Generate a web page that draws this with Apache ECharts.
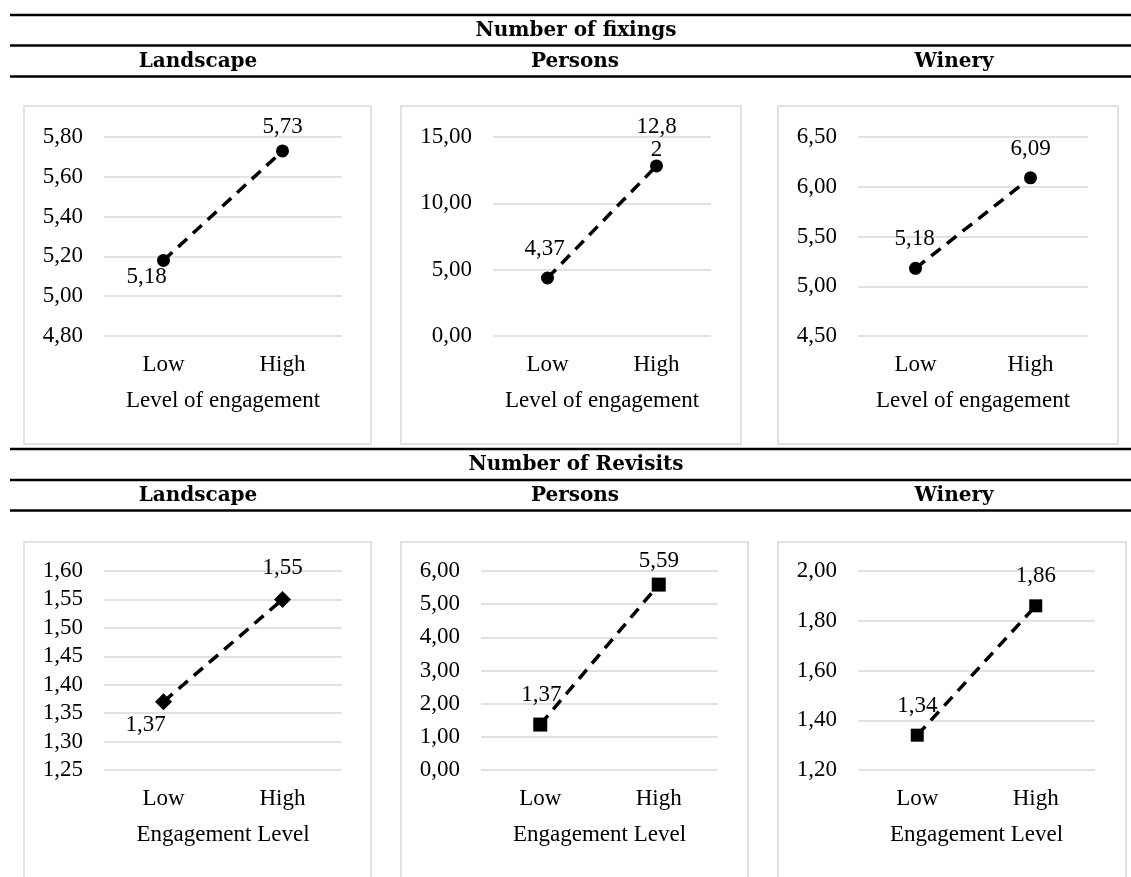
<!DOCTYPE html>
<html>
<head>
<meta charset="utf-8">
<script src="https://cdn.jsdelivr.net/npm/echarts@6/dist/echarts.min.js"></script>
<style>
    html, body { margin: 0; padding: 0; background: #fff; }
    #chart { width: 1131px; height: 877px; }
</style>
</head>
<body>
<div id="chart"></div>
<script>
// ---- data ----
const categories = ['Low', 'High'];

const fixingsLandscape = [5.18, 5.73];
const fixingsPersons = [4.37, 12.82];
const fixingsWinery = [5.18, 6.09];
const revisitsLandscape = [1.37, 1.55];
const revisitsPersons = [1.37, 5.59];
const revisitsWinery = [1.34, 1.86];

const sectionTitles = ['Number of fixings', 'Number of Revisits'];
const panelTitles = ['Landscape', 'Persons', 'Winery'];
const axisTitles = ['Level of engagement', 'Engagement Level'];

// y axis ticks per panel (min, max, step)
const yMin = [4.8, 0, 4.5, 1.25, 0, 1.2];
const yMax = [5.8, 15, 6.5, 1.6, 6, 2.0];
const yStep = [0.2, 5, 0.5, 0.05, 1, 0.2];

// ---- layout ----
const TEXT_FONT = 'Liberation Serif';
const HEAD_FONT = 'DejaVu Serif';
const GRID_COLOR = '#d9d9d9';

const seriesData = [fixingsLandscape, fixingsPersons, fixingsWinery,
                    revisitsLandscape, revisitsPersons, revisitsWinery];

const panels = [
    {grid: [104, 137, 238], box: [24, 106, 347, 338], symbol: 'circle', size: 13, rotate: 0,
     offsets: [[-17, 17], [0, -24]]},
    {grid: [493, 137, 218], box: [401, 106, 340, 338], symbol: 'circle', size: 13, rotate: 0,
     offsets: [[-3, -29], [0, -27]], wrap: 1},
    {grid: [858, 137, 230], box: [778, 106, 340, 338], symbol: 'circle', size: 13, rotate: 0,
     offsets: [[-1, -29], [0, -29]]},
    {grid: [104, 571, 238], box: [24, 542, 347, 360], symbol: 'rect', size: 12, rotate: 45,
     offsets: [[-18, 23], [0, -31]]},
    {grid: [481, 571, 237], box: [401, 542, 347, 360], symbol: 'rect', size: 14, rotate: 0,
     offsets: [[1, -30], [0, -24]]},
    {grid: [858, 571, 237], box: [778, 542, 348, 360], symbol: 'rect', size: 13, rotate: 0,
     offsets: [[0, -29], [0, -30]]}
];
const GRID_HEIGHT = 199;

const headerLines = [15, 45.5, 76.5, 449, 480, 510.5];
const sectionY = [31, 465];
const panelTitleY = [62, 496];
const panelTitleX = [198, 575, 954];

function fmt(v) {
    return v.toFixed(2).replace('.', ',');
}

let chart = echarts.init(document.getElementById('chart'));

let grids = [], xAxes = [], yAxes = [], series = [];
panels.forEach(function (p, i) {
    grids.push({left: p.grid[0], top: p.grid[1], width: p.grid[2], height: GRID_HEIGHT, containLabel: false});
    xAxes.push({
        type: 'category',
        gridIndex: i,
        data: categories,
        boundaryGap: true,
        axisLine: {show: false},
        axisTick: {show: false},
        axisLabel: {color: '#000', fontFamily: TEXT_FONT, fontSize: 23, margin: 17},
        name: axisTitles[i < 3 ? 0 : 1],
        nameLocation: 'middle',
        nameGap: 53,
        nameTextStyle: {color: '#000', fontFamily: TEXT_FONT, fontSize: 23}
    });
    yAxes.push({
        type: 'value',
        gridIndex: i,
        min: yMin[i],
        max: yMax[i],
        interval: yStep[i],
        axisLine: {show: false},
        axisTick: {show: false},
        axisLabel: {color: '#000', fontFamily: TEXT_FONT, fontSize: 23, margin: 21, formatter: fmt},
        splitLine: {lineStyle: {color: GRID_COLOR, width: 1.5}}
    });
    series.push({
        type: 'line',
        xAxisIndex: i,
        yAxisIndex: i,
        symbol: p.symbol,
        symbolSize: p.size,
        symbolRotate: p.rotate,
        itemStyle: {color: '#000'},
        lineStyle: {color: '#000', width: 3.5, type: [12, 8]},
        label: {
            show: true,
            position: 'inside',
            color: '#000',
            fontFamily: TEXT_FONT,
            fontSize: 23,
            lineHeight: 23,
            formatter: function (prm) { return fmt(prm.value); }
        },
        data: seriesData[i].map(function (v, k) {
            let lbl = {offset: p.offsets[k]};
            if (p.wrap === k) {
                lbl.width = 44;
                lbl.overflow = 'breakAll';
            }
            return {value: v, label: lbl};
        })
    });
});

let graphics = [];
headerLines.forEach(function (y) {
    graphics.push({type: 'line', shape: {x1: 10, y1: y, x2: 1131, y2: y},
                   style: {stroke: '#000', lineWidth: 2.5}, z: 10});
});
panels.forEach(function (p) {
    graphics.push({type: 'rect', shape: {x: p.box[0], y: p.box[1], width: p.box[2], height: p.box[3]},
                   style: {fill: 'none', stroke: GRID_COLOR, lineWidth: 1.5}, z: -1});
});
sectionTitles.forEach(function (t, r) {
    graphics.push({type: 'text', x: 576, y: sectionY[r],
                   style: {text: t, fill: '#000', font: 'bold 20px "' + HEAD_FONT + '"',
                           align: 'center', verticalAlign: 'middle'}});
    panelTitles.forEach(function (pt, c) {
        graphics.push({type: 'text', x: panelTitleX[c], y: panelTitleY[r],
                       style: {text: pt, fill: '#000', font: 'bold 20px "' + HEAD_FONT + '"',
                               align: 'center', verticalAlign: 'middle'}});
    });
});

chart.setOption({
    animation: false,
    backgroundColor: '#fff',
    grid: grids,
    xAxis: xAxes,
    yAxis: yAxes,
    series: series,
    graphic: graphics
});

window.addEventListener('resize', function () {
    chart?.resize();
});
</script>
</body>
</html>
